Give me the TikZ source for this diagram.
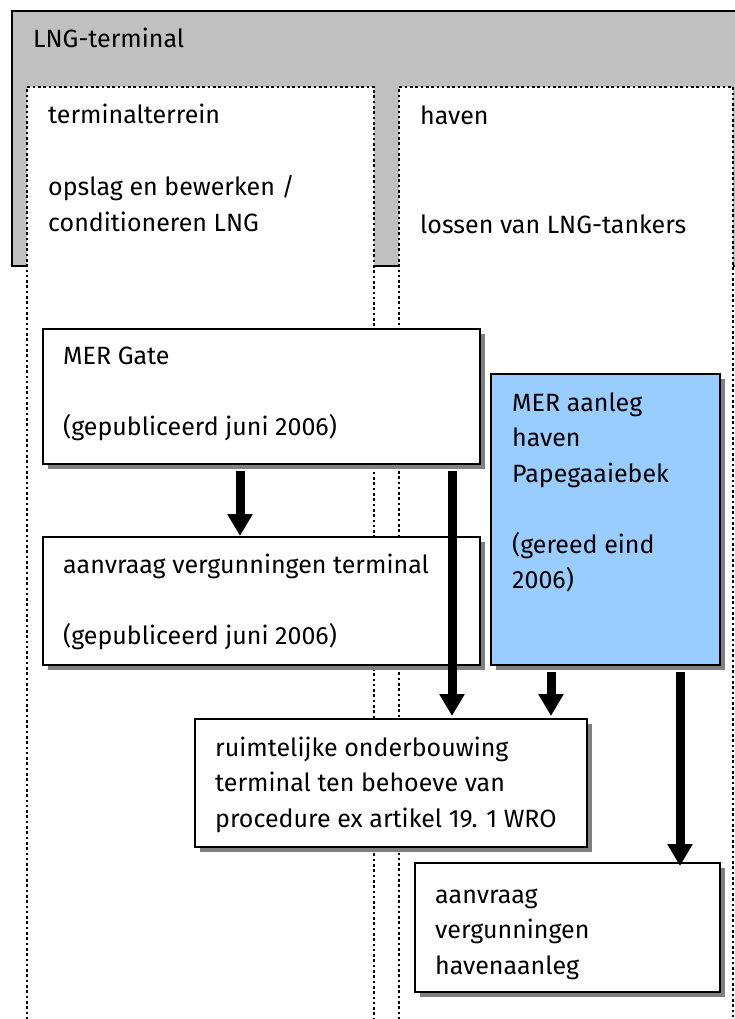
\documentclass[tikz,border=0pt]{standalone}
\usepackage{fontspec}
\setmainfont{Fira Sans}
\usetikzlibrary{arrows.meta,shadows}
\definecolor{bandgray}{RGB}{192,192,192}
\definecolor{shadowgray}{RGB}{128,128,128}
\definecolor{merblue}{RGB}{153,204,255}
% stacked lines whose baseline is that of the first line
\newcommand{\stacklines}[1]{\begin{tabular}[t]{@{}l@{}}#1\end{tabular}}
\tikzset{
  txt/.style={anchor=base west, inner sep=0pt,
    font=\fontsize{25}{35.5}\selectfont},
  hdr/.style={txt, font=\fontsize{25}{36}\selectfont},
  box/.style={draw=black, line width=1.5pt, fill=white, rectangle,
    anchor=north west, inner sep=0pt,
    drop shadow={fill=shadowgray, opacity=1, shadow xshift=5pt, shadow yshift=-5pt}},
  column/.style={draw=black, line width=2.6pt, dash pattern=on 2.6pt off 2.7pt},
  flow/.style={line width=9pt, -{Triangle[width=24pt,length=22pt]}},
}
\begin{document}
\begin{tikzpicture}[x=1pt,y=-1pt]
\useasboundingbox (0,0) rectangle (735,1019);
\clip (0,0) rectangle (735,1019);

% grey band of the LNG terminal
\filldraw[fill=bandgray, draw=black, line width=1.5pt] (12,11) rectangle (760,266);
\node[hdr] (lngtitle) at (33,48) {LNG-terminal};

% the two site columns
\fill[white] (27,87) rectangle (374,1030);
\draw[column] (27,1030) -- (27,87) -- (374,87) -- (374,1030);
\fill[white] (399,87) rectangle (733,1030);
\draw[column] (399,1030) -- (399,87) -- (733,87) -- (733,1030);

\node[hdr] (terreintext) at (48,124)
  {\stacklines{terminalterrein\\ \\ opslag en bewerken /\\ conditioneren LNG}};
\node[hdr] (haventext) at (420,125)
  {\stacklines{haven\\ \\ \\ lossen van LNG-tankers}};

% process boxes
\node[box, minimum width=437, minimum height=135] (mergate) at (42,328) {};
\node[txt] (mergatetext) at (63,364)
  {\stacklines{MER Gate\\ \\ (gepubliceerd juni 2006)}};

\node[box, minimum width=437, minimum height=128] (vergterminal) at (42,536) {};
\node[txt] (vergterminaltext) at (63,573)
  {\stacklines{aanvraag vergunningen terminal\\ \\ (gepubliceerd juni 2006)}};

\node[box, fill=merblue, minimum width=229, minimum height=291] (merhaven) at (490,373) {};
\node[txt] (merhaventext) at (512,411)
  {\stacklines{MER aanleg\\ haven\\ Papegaaiebek\\ \\ (gereed eind\\ 2006)}};

\node[box, minimum width=392, minimum height=128] (ruimte) at (194,718) {};
\node[txt] (ruimtetext) at (215,756)
  {\stacklines{ruimtelijke onderbouwing\\ terminal ten behoeve van\\ procedure ex artikel 19. 1 WRO}};

\node[box, minimum width=305, minimum height=129] (vergHaven) at (414,862) {};
\node[txt] (vergHaventext) at (435,903)
  {\stacklines{aanvraag\\ vergunningen\\ havenaanleg}};

% flow arrows
\coordinate (xa) at (240,0);
\coordinate (xb) at (452,0);
\coordinate (xc) at (551,0);
\coordinate (xd) at (680,0);
\draw[flow] ([yshift=-6pt]mergate.south -| xa) -- (vergterminal.north -| xa);
\draw[flow] ([yshift=-6pt]mergate.south -| xb) -- ([yshift=2pt]ruimte.north -| xb);
\draw[flow] ([yshift=-6pt]merhaven.south -| xc) -- ([yshift=2pt]ruimte.north -| xc);
\draw[flow] ([yshift=-6pt]merhaven.south -| xd) -- ([yshift=-4pt]vergHaven.north -| xd);
\end{tikzpicture}
\end{document}
